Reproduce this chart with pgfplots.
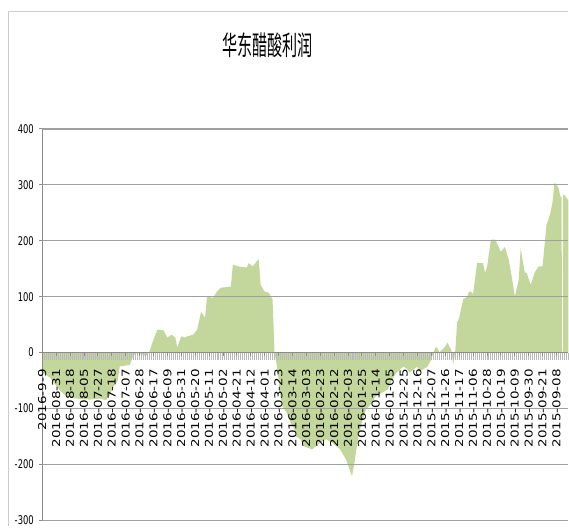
\documentclass[border=0pt]{standalone}
\usepackage{fontspec}
\setmainfont{DejaVu Sans}
\newfontfamily\cjk{Noto Sans CJK SC}
\usepackage{pgfplots}
\pgfplotsset{compat=1.18}
\definecolor{areagreen}{HTML}{C3D69B}
\definecolor{gridgray}{HTML}{A0A0A0}
\definecolor{axisgray}{HTML}{8C8C8C}
\begin{document}
\begin{tikzpicture}
\fill[white] (0pt,0pt) rectangle (569pt,527pt);
\draw[gray!40, line width=1pt] (9pt,0pt) -- (9pt,515pt) -- (568.5pt,515pt);
\node[font=\cjk\fontsize{27}{27}\selectfont, xscale=0.56] at (268pt,482pt) {华东醋酸利润};
\begin{axis}[
  at={(42.3pt,6pt)}, anchor=south west, scale only axis,
  width=526.7pt, height=392pt,
  xmin=0, xmax=265, ymin=-300, ymax=400,
  set layers, axis on top,
  axis x line=middle, axis y line=left,
  hide obscured x ticks=false,
  axis line style={-, axisgray, line width=1pt},
  ytick={-300,-200,-100,0,100,200,300,400},
  yticklabels={-300,-200,-100,0,100,200,300,400},
  ymajorgrids,
  grid style={gridgray, line width=1.3pt, /pgfplots/on layer=axis background},
  major tick length=3pt,
  tick align=outside,
  tick style={axisgray, line width=0.8pt},
  yticklabel style={font=\fontsize{12}{12}\selectfont, xscale=0.7, anchor=east, text=black},
  yticklabel shift=3pt,
  xtick={0,7,...,259},
  xticklabels={2016-9-9,2016-08-31,2016-08-18,2016-08-05,2016-07-27,2016-07-18,2016-07-07,2016-06-28,2016-06-17,2016-06-09,2016-05-31,2016-05-20,2016-05-11,2016-05-02,2016-04-21,2016-04-12,2016-04-01,2016-03-23,2016-03-14,2016-03-03,2016-02-23,2016-02-12,2016-02-03,2016-01-25,2016-01-14,2016-01-05,2015-12-25,2015-12-16,2015-12-07,2015-11-26,2015-11-17,2015-11-06,2015-10-28,2015-10-19,2015-10-09,2015-09-30,2015-09-21,2015-09-08},
  xticklabel style={font=\fontsize{13.5}{13.5}\selectfont, xscale=0.8, rotate=90, anchor=east, text=black},
  xticklabel shift=10pt,
  minor xtick={0,...,265},
  minor tick length=7pt,
  minor tick style={gray!55, line width=0.9pt},
]
\addplot[fill=areagreen, draw=none] coordinates {
(0,-35)(2,-40)(4,-45)(6,-55)(9,-68)(11,-75)(14,-80)(19,-83)(24,-84)(29,-82)(32,-85)(34,-76)(36,-60)(38,-50)(39,-25)(44,-22)(46,-5)(48,0)(49,-2)(52,-6)(53,-3)(54,2)(56,23)(58,41)(61,40)(63,27)(64,29)(65,32)(67,27)(68,9)(70,29)(72,27)(73,29)(76,32)(78,41)(80,73)(82,62)(83,100)(86,98)(88,109)(90,116)(95,118)(96,157)(99,154)(103,152)(104,160)(106,154)(108,163)(109,167)(110,121)(112,109)(114,107)(116,95)(117,0)(118,-20)(120,-78)(121,-96)(123,-107)(125,-125)(127,-137)(128,-150)(130,-155)(132,-168)(136,-173)(140,-161)(143,-155)(146,-161)(150,-173)(153,-191)(156,-221)(157,-203)(159,-155)(161,-125)(163,-102)(166,-90)(168,-78)(171,-72)(174,-66)(177,-43)(179,-34)(182,-25)(184,-30)(185,-36)(187,-30)(189,-25)(190,-34)(194,-25)(196,-12)(197,0)(198,9)(199,9)(200,0)(203,11)(204,18)(206,5)(207,-21)(208,2)(209,54)(210,62)(212,95)(214,100)(215,109)(216,109)(217,104)(219,160)(220,160)(222,160)(223,143)(224,152)(226,202)(228,202)(229,196)(231,180)(233,189)(235,166)(237,125)(238,100)(240,130)(241,187)(243,143)(244,143)(246,121)(248,143)(250,154)(252,154)(254,229)(255,238)(256,250)(257,268)(258,304)(260,295)(261,279)(261.6,279)(261.8,0)(262.2,0)(262.4,282)(263,282)(264,277)(265,272)
} \closedcycle;
\end{axis}
\end{tikzpicture}
\end{document}
